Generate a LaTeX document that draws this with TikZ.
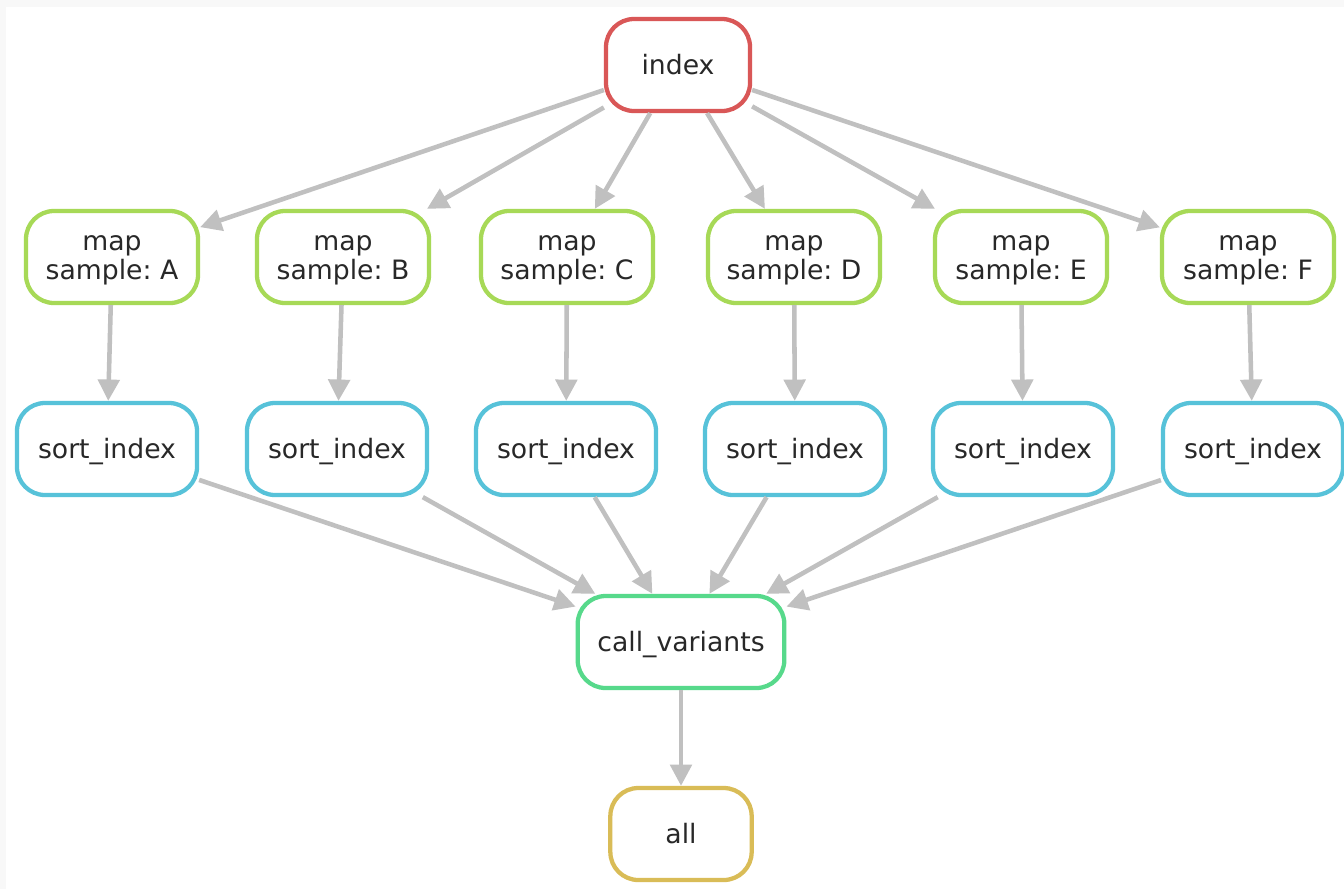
\documentclass[tikz,border=0pt]{standalone}
\usepackage{fontspec}
\setmainfont{DejaVu Sans}
\usetikzlibrary{arrows.meta}

\definecolor{rulered}{RGB}{217,87,87}
\definecolor{rulelime}{RGB}{167,217,87}
\definecolor{rulecyan}{RGB}{87,194,217}
\definecolor{ruleteal}{RGB}{87,217,139}
\definecolor{ruleyellow}{RGB}{217,188,87}
\definecolor{edgegray}{RGB}{192,192,192}
\definecolor{labelink}{RGB}{40,40,40}
\definecolor{framegray}{RGB}{248,248,248}

% a label line drawn slightly lower, keeping its reported size
\newcommand\lowline[1]{\raisebox{-2.5pt}[\height][\depth]{#1}}

\tikzset{
  job/.style={draw, rectangle, rounded corners=21pt, line width=3.2pt,
    fill=white, minimum height=69pt, align=center, text=labelink,
    font=\fontsize{20}{21.75}\selectfont\frenchspacing, inner sep=0pt},
  oneline/.style={job, text height=14.6pt, text depth=0pt},
  indexjob/.style={oneline, draw=rulered, minimum width=108pt},
  mapjob/.style={job, draw=rulelime, minimum width=129pt},
  sortjob/.style={oneline, draw=rulecyan, minimum width=135pt},
  calljob/.style={oneline, draw=ruleteal, minimum width=155pt},
  alljob/.style={oneline, draw=ruleyellow, minimum width=106pt},
  dep/.style={draw=edgegray, line width=3.4pt,
    -{Triangle[length=16pt,width=16pt]}},
}

\begin{document}
\begin{tikzpicture}[x=0.75pt,y=-0.75pt]
  % canvas with its thin grey frame along the top and left
  \fill[framegray] (0,0) rectangle (1344,889);
  \fill[white] (6,7) rectangle (1344,889);
  \useasboundingbox (0,0) rectangle (1344,889);

  \node[indexjob] (index) at (678,65) {index};

  \node[mapjob] (mapA) at (112,257)  {\lowline{map}\\\lowline{sample: A}};
  \node[mapjob] (mapB) at (343,257)  {\lowline{map}\\\lowline{sample: B}};
  \node[mapjob] (mapC) at (567,257)  {\lowline{map}\\\lowline{sample: C}};
  \node[mapjob] (mapD) at (794,257)  {\lowline{map}\\\lowline{sample: D}};
  \node[mapjob] (mapE) at (1021,257) {\lowline{map}\\\lowline{sample: E}};
  \node[mapjob] (mapF) at (1248,257) {\lowline{map}\\\lowline{sample: F}};

  \node[sortjob] (sortA) at (107,449)  {sort\_index};
  \node[sortjob] (sortB) at (337,449)  {sort\_index};
  \node[sortjob] (sortC) at (566,449)  {sort\_index};
  \node[sortjob] (sortD) at (795,449)  {sort\_index};
  \node[sortjob] (sortE) at (1023,449) {sort\_index};
  \node[sortjob] (sortF) at (1253,449) {sort\_index};

  \node[calljob] (call) at (681,642) {call\_variants};
  \node[alljob] (all) at (681,834) {all};

  \foreach \s in {A,B,C,D,E,F} {
    \draw[dep] (index) -- (map\s);
    \draw[dep] (map\s) -- (sort\s);
    \draw[dep] (sort\s) -- (call);
  }
  \draw[dep] (call) -- (all);
\end{tikzpicture}
\end{document}
